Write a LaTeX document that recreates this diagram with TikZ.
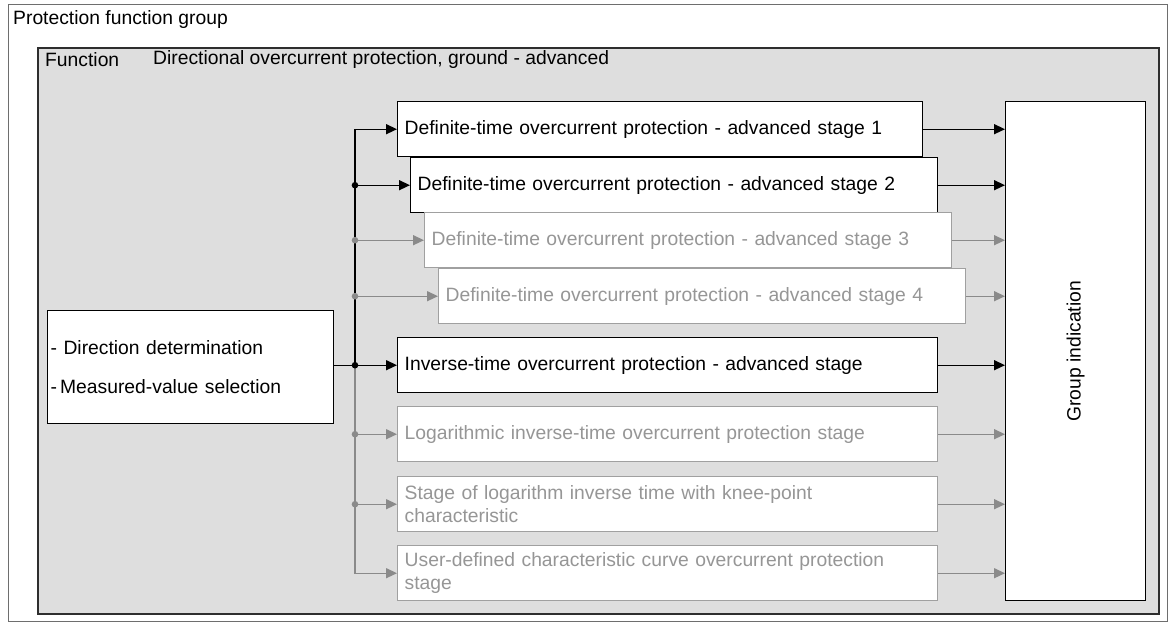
\documentclass[tikz,border=0pt]{standalone}
\usepackage{fontspec}
\setmainfont{Liberation Sans}
\usetikzlibrary{arrows.meta}
\definecolor{panel}{HTML}{DEDEDE}
\definecolor{dimline}{HTML}{8A8A8A}
\definecolor{dimtext}{HTML}{969696}
\definecolor{dimborder}{HTML}{A0A0A0}
\definecolor{frameline}{HTML}{6E6E6E}
\definecolor{panelborder}{HTML}{2E2E2E}
\begin{document}
\begin{tikzpicture}[x=1pt,y=-1pt,
  font=\fontsize{19.3}{23}\selectfont,
  frame/.style={draw=frameline,line width=1.3pt,fill=white,anchor=north west,inner sep=0pt},
  panelbox/.style={draw=panelborder,line width=1.5pt,fill=panel,anchor=north west,inner sep=0pt},
  stagebox/.style={draw=black,line width=1.4pt,fill=white,anchor=north west,inner xsep=7pt,inner ysep=0pt,align=left},
  dimbox/.style={stagebox,draw=dimborder,text=dimtext},
  blk/.style={draw=black,line width=1.4pt},
  gry/.style={draw=dimline,line width=1.4pt},
  tip/.style={-{Triangle[length=11pt,width=10pt]}},
  label/.style={anchor=west,inner sep=0pt}]
\useasboundingbox (0,0) rectangle (1175,625);

% frames
\node[frame,minimum width=1159pt,minimum height=617pt] (outer) at (8,4) {};
\node[label] (outertitle) at (13,20) {Protection function group};
\node[panelbox,minimum width=1121pt,minimum height=566pt] (panel) at (37,47) {};
\node[label] (fnlabel) at (45,60) {Function};
\node[label] (fnname) at (153,60) {Directional overcurrent protection, ground - advanced};

% left box
\node[stagebox,inner xsep=3pt,text width=280pt,minimum height=113pt] (lb) at (47,310)
  {- Direction determination\\[16pt]-\hspace{3pt}Measured-value selection};

% stage boxes
\node[stagebox,text width=511pt,minimum height=55pt] (s1) at (397,101)
  {Definite-time overcurrent protection - advanced stage 1};
\node[stagebox,text width=513pt,minimum height=55pt] (s2) at (410,157)
  {Definite-time overcurrent protection - advanced stage 2};
\node[dimbox,text width=513pt,minimum height=55pt] (s3) at (424,212)
  {Definite-time overcurrent protection - advanced stage 3};
\node[dimbox,text width=513pt,minimum height=55pt] (s4) at (438,268)
  {Definite-time overcurrent protection - advanced stage 4};
\node[stagebox,text width=526pt,minimum height=55pt] (inv) at (397,337)
  {Inverse-time overcurrent protection - advanced stage};
\node[dimbox,text width=526pt,minimum height=55pt] (log) at (397,406)
  {Logarithmic inverse-time overcurrent protection stage};
\node[dimbox,text width=526pt,minimum height=55pt] (knee) at (397,476)
  {Stage of logarithm inverse time with knee-point\\characteristic};
\node[dimbox,text width=526pt,minimum height=55pt] (user) at (397,545)
  {User-defined characteristic curve overcurrent protection\\stage};

% group indication
\node[stagebox,inner sep=0pt,minimum width=140pt,minimum height=499pt] (gi) at (1005,101) {};
\node[rotate=90,inner sep=0pt] (gitext) at (gi.center) {Group indication};

% bus
\coordinate (bx) at (355,0);

% gray part of bus and branches
\draw[gry,tip] (inv.west -| bx) |- (user.west);
\foreach \s in {s3,s4,log,knee}{
  \draw[gry,tip] (\s.west -| bx) -- (\s.west);
}
% black part
\draw[blk,tip] (inv.west -| bx) |- (s1.west);
\draw[blk,tip] (s2.west -| bx) -- (s2.west);
\draw[blk,tip] (lb.east |- inv.west) -- (inv.west);

% dots
\foreach \s in {s3,s4,log,knee}{
  \fill[dimline] (\s.west -| bx) circle (3.3);
}
\fill[black] (s2.west -| bx) circle (3.3);
\fill[black] (inv.west -| bx) circle (3.3);

% outputs
\foreach \s in {s1,s2,inv}{
  \draw[blk,tip] (\s.east) -- (\s.east -| gi.west);
}
\foreach \s in {s3,s4,log,knee,user}{
  \draw[gry,tip] (\s.east) -- (\s.east -| gi.west);
}
\end{tikzpicture}
\end{document}
